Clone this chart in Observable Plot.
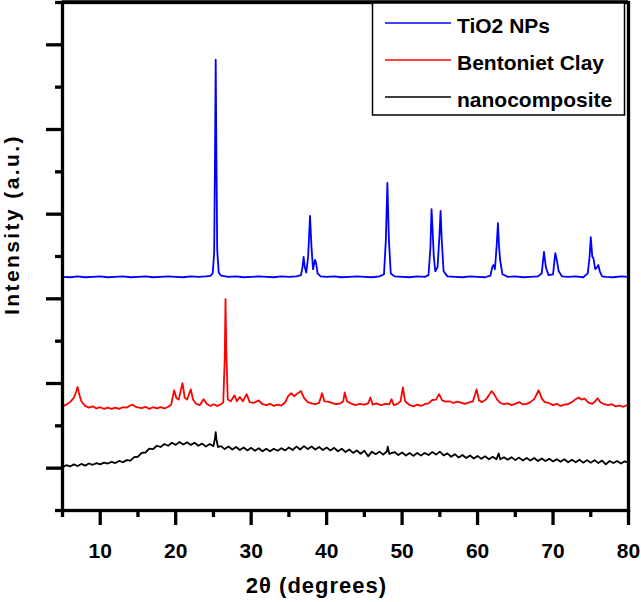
<!DOCTYPE html>
<html>
<head>
<meta charset="utf-8">
<script src="https://cdn.jsdelivr.net/npm/d3@7"></script>
<script src="https://cdn.jsdelivr.net/npm/@observablehq/plot@0.6"></script>
<style>
  html, body { margin: 0; padding: 0; background: #fff; }
  #wrap { position: relative; width: 641px; height: 602px; font-family: "Liberation Sans", Arial, sans-serif; }
  #legend { position: absolute; left: 0; top: 0; pointer-events: none; }
</style>
</head>
<body>
<div id="wrap"></div>
<script>
// Series names and colours
const seriesNames = ["TiO2 NPs", "Bentoniet Clay", "nanocomposite"];
const seriesColors = ["#0000ff", "#ff0000", "#000000"];

// Axis ticks
const xMajorTicks = [10, 20, 30, 40, 50, 60, 70, 80];
const xMinorTicks = [5, 15, 25, 35, 45, 55, 65, 75];
const yMajorTicks = [100, 300, 500, 700, 900, 1100];
const yMinorTicks = [0, 200, 400, 600, 800, 1000, 1200];
const xLabel = "2θ (degrees)";
const yLabel = "Intensity (a.u.)";

// TiO2 NPs: [2θ, intensity]
const tio2 = [
  [5,552],[6,551],[7,553],[8,551],[9,552],[10,553],[11,551],[12,552],[13,553],[14,551],
  [15,552],[16,553],[17,551],[18,552],[19,553],[20,552],[21,551],[22,553],[23,552],[24,553],
  [24.6,554],[24.9,560],[25.1,610],[25.2,820],[25.3,1065],[25.4,830],[25.5,615],[25.7,562],[26,555],
  [27,552],[28,553],[29,551],[30,552],[31,553],[32,552],[33,551],[34,553],[35,552],[36,553],
  [36.6,556],[36.8,575],[36.95,599],[37.1,575],[37.3,562],[37.55,600],[37.8,696],[38.0,620],[38.2,570],
  [38.45,592],[38.6,585],[38.8,560],[39.2,553],[40,552],[41,553],[42,551],[43,552],[44,553],[45,552],
  [46,551],[47,553],[47.6,558],[47.85,640],[48.05,774],[48.25,640],[48.5,560],[49,553],[50,552],
  [51,551],[52,553],[53,552],[53.5,556],[53.75,620],[53.9,712],[54.05,660],[54.2,600],[54.4,565],
  [54.7,575],[54.95,650],[55.1,708],[55.25,640],[55.5,565],[56,553],[57,552],[58,551],[59,553],
  [60,552],[61,551],[61.7,555],[61.95,575],[62.1,580],[62.3,570],[62.55,630],[62.7,679],[62.85,622],
  [63.0,590],[63.3,558],[64,552],[65,553],[66,551],[67,552],[68,553],[68.5,560],[68.8,611],
  [69.05,575],[69.4,556],[70,558],[70.3,608],[70.5,592],[70.75,565],[71.2,553],[72,552],[73,553],
  [74,551],[74.6,560],[74.85,600],[75.0,646],[75.2,600],[75.35,596],[75.6,570],[75.85,575],[76.0,580],
  [76.2,565],[76.5,553],[77,552],[78,551],[79,553],[80,552]
];

// Bentoniet Clay: [2θ, intensity]
const clay = [
  [5,246],[5.5,250],[6,256],[6.5,266],[6.8,280],[7.0,292],[7.2,275],[7.5,258],[8,247],[8.5,243],
  [9,246],[9.5,241],[10,244],[10.5,240],[11,243],[11.5,240],[12,243],[12.5,240],[13,244],[13.5,243],
  [14,248],[14.3,250],[14.8,244],[15.5,242],[16,245],[16.5,240],[17,244],[17.5,241],[18,244],[18.5,241],
  [19,245],[19.4,250],[19.8,284],[20.1,265],[20.4,262],[20.9,301],[21.2,266],[21.5,262],[22.0,286],
  [22.3,262],[22.7,252],[23.2,249],[23.7,263],[24.1,252],[24.6,247],[25,251],[25.5,247],[26,251],
  [26.3,255],[26.5,360],[26.6,499],[26.7,380],[26.9,262],[27.3,258],[27.8,272],[28.1,258],[28.5,268],
  [28.9,258],[29.4,275],[29.8,256],[30.3,254],[31.0,260],[31.5,251],[32,249],[32.5,252],[33,247],
  [33.5,250],[34,248],[34.5,255],[34.9,270],[35.3,277],[35.7,270],[36.1,276],[36.6,282],[37.0,266],
  [37.5,256],[38,253],[38.5,251],[39,254],[39.4,277],[39.7,258],[40.2,257],[40.7,254],[41.2,251],
  [41.8,253],[42.2,258],[42.4,279],[42.7,258],[43.2,253],[43.8,249],[44.4,252],[45,250],[45.5,253],
  [45.8,267],[46.1,250],[46.6,253],[47.2,249],[47.8,252],[48.3,251],[48.6,263],[48.9,249],[49.4,252],
  [49.8,258],[50.1,291],[50.4,258],[50.9,250],[51.5,246],[52,250],[52.5,247],[53,251],[53.5,253],
  [54,261],[54.5,262],[54.9,275],[55.3,260],[55.8,257],[56.3,258],[56.8,254],[57.3,257],[57.8,255],
  [58.3,252],[58.8,255],[59.4,258],[59.86,286],[60.2,260],[60.6,256],[61.1,262],[61.5,272],[61.85,282],
  [62.2,275],[62.6,262],[63,254],[63.5,251],[64,253],[64.5,249],[65,252],[65.5,256],[66,251],
  [66.5,252],[67,256],[67.5,263],[68.1,284],[68.5,265],[68.9,256],[69.4,254],[70,249],[70.5,252],
  [71,247],[71.5,250],[72,251],[72.5,256],[73,263],[73.4,267],[73.8,262],[74.2,264],[74.7,255],
  [75.2,252],[75.6,258],[75.9,265],[76.3,255],[76.8,251],[77.3,249],[77.8,251],[78.3,246],[78.8,248],
  [79.3,245],[79.7,248],[80,250]
];

// nanocomposite: [2θ, intensity]
const nano = [
  [5,102],[5.5,107],[6,104],[6.5,109],[7,105],[7.5,110],[8,106],[8.5,111],[9,108],[9.5,112],
  [10,109],[10.5,113],[11,111],[11.5,115],[12,112],[12.5,117],[13,114],[13.5,119],[14,118],[14.5,126],
  [15,127],[15.5,136],[16,137],[16.5,146],[17,145],[17.5,153],[18,150],[18.5,157],[19,153],[19.5,160],
  [20,155],[20.5,162],[21,156],[21.5,161],[22,155],[22.5,160],[23,153],[23.5,158],[24,151],[24.5,157],
  [25,152],[25.2,170],[25.3,185],[25.4,168],[25.6,150],[26,152],[26.5,145],[27,151],[27.5,144],[28,150],
  [28.5,143],[29,149],[29.5,142],[30,148],[30.5,141],[31,147],[31.5,140],[32,146],[32.5,140],[33,146],
  [33.5,141],[34,147],[34.5,142],[35,149],[35.5,143],[36,151],[36.5,144],[37,152],[37.5,145],[38,151],
  [38.5,144],[39,150],[39.5,143],[40,149],[40.5,142],[41,148],[41.5,140],[42,146],[42.5,138],[43,144],
  [43.5,136],[44,142],[44.5,134],[45,141],[45.5,128],[46,139],[46.5,133],[47,139],[47.5,132],[48,140],
  [48.1,151],[48.3,134],[49,138],[49.5,131],[50,137],[50.5,130],[51,136],[51.5,129],[52,136],[52.5,130],
  [53,136],[53.5,131],[54,138],[54.5,132],[55,139],[55.5,130],[56,135],[56.5,127],[57,133],[57.5,125],
  [58,131],[58.5,124],[59,130],[59.5,123],[60,129],[60.5,122],[61,128],[61.5,121],[62,127],[62.5,121],
  [62.8,135],[63,121],[63.5,126],[64,120],[64.5,126],[65,119],[65.5,125],[66,118],[66.5,124],[67,118],
  [67.5,124],[68,117],[68.5,123],[69,117],[69.5,122],[70,116],[70.5,121],[71,115],[71.5,121],[72,114],
  [72.5,120],[73,114],[73.5,120],[74,113],[74.5,119],[75,113],[75.5,119],[76,112],[76.5,118],[77,109],
  [77.5,117],[78,112],[78.5,117],[79,111],[79.5,116],[80,113]
];

const seriesData = [tio2, clay, nano];

const W = 641, H = 602;
const font = "Liberation Sans, Arial, sans-serif";

const lineMarks = seriesData.map((arr, i) =>
  Plot.line(arr, {x: d => d[0], y: d => d[1], stroke: seriesColors[i], strokeWidth: 1.8, curve: "linear"})
);

const chart = Plot.plot({
  width: W,
  height: H,
  marginLeft: 62,
  marginRight: 13,
  marginTop: 2,
  marginBottom: 92,
  style: {fontFamily: font, background: "#fff", overflow: "visible"},
  x: {domain: [5, 80], label: null},
  y: {domain: [0, 1200], label: null},
  marks: [
    ...lineMarks,
    Plot.frame({stroke: "#000", strokeWidth: 3.3}),
    Plot.axisX(xMinorTicks, {tickSize: 7, tickFormat: () => "", strokeWidth: 3.3, label: null}),
    Plot.axisX(xMajorTicks, {tickSize: 15, tickPadding: 18, strokeWidth: 3.3, fontSize: 21, fontWeight: "bold", label: null}),
    Plot.axisY(yMinorTicks, {tickSize: 7, tickFormat: () => "", strokeWidth: 3.3, label: null}),
    Plot.axisY(yMajorTicks, {tickSize: 16, tickFormat: () => "", strokeWidth: 3.3, label: null}),
    Plot.text([xLabel], {text: d => d, frameAnchor: "bottom", textAnchor: "middle", dx: -29, dy: 82, fontSize: 22, fontWeight: "bold"}),
    Plot.text([yLabel], {text: d => d, frameAnchor: "left", textAnchor: "middle", rotate: -90, dx: -50, dy: -32, fontSize: 21, fontWeight: "bold"})
  ]
});

// letter spacing on the axis titles (the reference's titles are set wide)
chart.querySelectorAll("text").forEach(t => {
  if (t.textContent === yLabel) t.setAttribute("letter-spacing", "2.4");
  if (t.textContent === xLabel) t.setAttribute("letter-spacing", "1");
});

const wrap = document.getElementById("wrap");
wrap.appendChild(chart);

// Legend overlay
const ns = "http://www.w3.org/2000/svg";
const leg = document.createElementNS(ns, "svg");
leg.setAttribute("id", "legend");
leg.setAttribute("width", W);
leg.setAttribute("height", H);
const box = document.createElementNS(ns, "rect");
box.setAttribute("x", 372.5); box.setAttribute("y", 2);
box.setAttribute("width", 252); box.setAttribute("height", 113);
box.setAttribute("fill", "#fff"); box.setAttribute("stroke", "#000"); box.setAttribute("stroke-width", 1.5);
leg.appendChild(box);
seriesNames.forEach((name, i) => {
  const yy = 23 + i * 37;
  const ln = document.createElementNS(ns, "line");
  ln.setAttribute("x1", 385); ln.setAttribute("x2", 451);
  ln.setAttribute("y1", yy); ln.setAttribute("y2", yy);
  ln.setAttribute("stroke", seriesColors[i]); ln.setAttribute("stroke-width", 1.5);
  leg.appendChild(ln);
  const tx = document.createElementNS(ns, "text");
  tx.setAttribute("x", 457); tx.setAttribute("y", yy + 10);
  tx.setAttribute("font-family", font); tx.setAttribute("font-weight", "bold");
  tx.setAttribute("font-size", 21);
  tx.textContent = name;
  leg.appendChild(tx);
});
// redraw top frame line over legend box top
const topLine = document.createElementNS(ns, "line");
topLine.setAttribute("x1", 62); topLine.setAttribute("x2", 628);
topLine.setAttribute("y1", 2); topLine.setAttribute("y2", 2);
topLine.setAttribute("stroke", "#000"); topLine.setAttribute("stroke-width", 3.3);
leg.appendChild(topLine);
wrap.appendChild(leg);
</script>
</body>
</html>
